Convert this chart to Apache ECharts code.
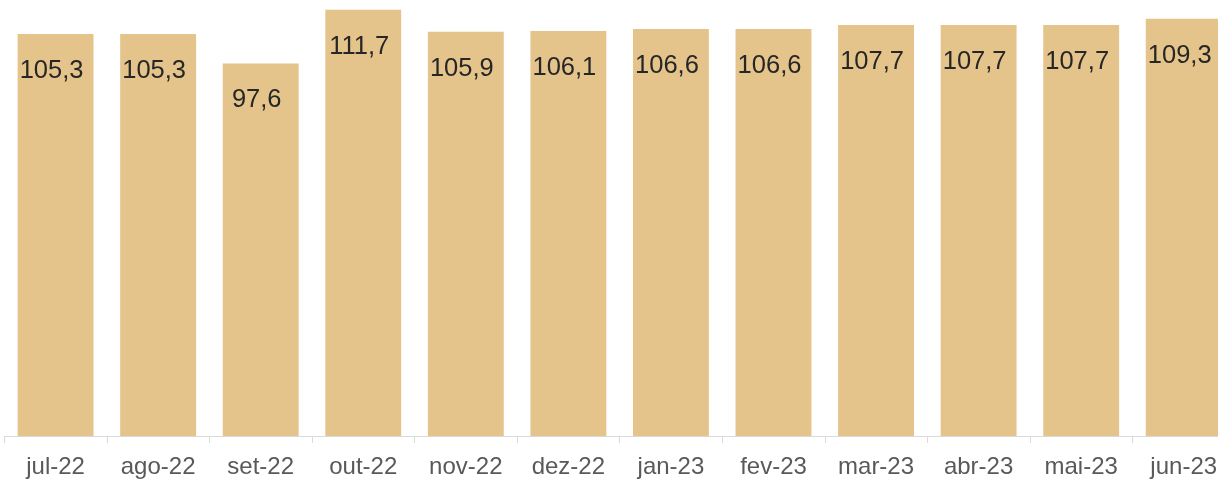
<!DOCTYPE html>
<html>
<head>
<meta charset="utf-8">
<script src="https://cdn.jsdelivr.net/npm/echarts@6/dist/echarts.min.js"></script>
<style>
html,body{margin:0;padding:0;background:#fff;overflow:hidden;width:1218px;height:479px;}
#chart{width:1245px;height:479px;}
</style>
</head>
<body>
<div id="chart"></div>
<script>
var categories = ['jul-22','ago-22','set-22','out-22','nov-22','dez-22','jan-23','fev-23','mar-23','abr-23','mai-23','jun-23'];
var values = [105.3,105.3,97.6,111.7,105.9,106.1,106.6,106.6,107.7,107.7,107.7,109.3];

var chart = echarts.init(document.getElementById('chart'));
chart.setOption({
  animation: false,
  grid: {left: 4.3, right: 10, top: 8.5, bottom: 40.5, containLabel: false},
  xAxis: {
    type: 'category',
    data: categories,
    axisLine: {lineStyle: {color: '#D9D9D9', width: 1}},
    axisTick: {show: true, length: 7, alignWithLabel: false, lineStyle: {color: '#D9D9D9'}},
    axisLabel: {color: '#595959', fontSize: 24, fontFamily: 'Liberation Sans, Arial, sans-serif', margin: 19, interval: 0}
  },
  yAxis: {
    type: 'value', min: 0, max: 112, show: false, splitLine: {show: false}
  },
  series: [{
    type: 'bar',
    data: values,
    barCategoryGap: '26%',
    itemStyle: {color: '#E4C48A'},
    label: {
      show: true,
      position: 'insideTop',
      distance: 24,
      offset: [-4, 0],
      color: '#262626',
      fontSize: 25.5,
      fontFamily: 'Liberation Sans, Arial, sans-serif',
      formatter: function (p) { return p.value.toFixed(1).replace('.', ','); }
    }
  }]
});
</script>
</body>
</html>
